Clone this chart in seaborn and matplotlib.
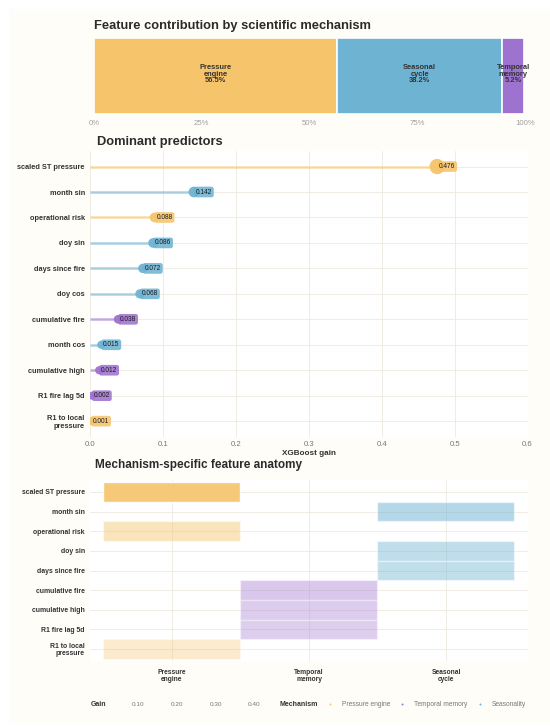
import numpy as np
import pandas as pd
import matplotlib
matplotlib.use("Agg")
import matplotlib.pyplot as plt
import matplotlib.transforms as mtrans
from matplotlib.patches import Rectangle
from matplotlib.lines import Line2D
import seaborn as sns

# ---------------- data ----------------
features = ["scaled ST pressure", "month sin", "operational risk", "doy sin",
            "days since fire", "doy cos", "cumulative fire", "month cos",
            "cumulative high", "R1 fire lag 5d", "R1 to local\npressure"]
gains = [0.476, 0.142, 0.088, 0.086, 0.072, 0.068, 0.038, 0.015, 0.012, 0.002, 0.001]
mechanisms = ["Pressure engine", "Seasonality", "Pressure engine", "Seasonality",
              "Seasonality", "Seasonality", "Temporal memory", "Seasonality",
              "Temporal memory", "Temporal memory", "Pressure engine"]

share_keys = ["Pressure engine", "Seasonality", "Temporal memory"]
share_labels = ["Pressure\nengine", "Seasonal\ncycle", "Temporal\nmemory"]
share_pct = [56.5, 38.2, 5.2]
share_ticks = [0, 25, 50, 75, 100]

anatomy_features = ["scaled ST pressure", "month sin", "operational risk", "doy sin",
                    "days since fire", "cumulative fire", "cumulative high",
                    "R1 fire lag 5d", "R1 to local\npressure"]
anatomy_columns = ["Pressure\nengine", "Temporal\nmemory", "Seasonal\ncycle"]
column_mech = ["Pressure engine", "Temporal memory", "Seasonality"]

gain_ticks = [0.1, 0.2, 0.3, 0.4]
gain_ticks_text = ["0.10", "0.20", "0.30", "0.40"]
legend_mechs = ["Pressure engine", "Temporal memory", "Seasonality"]
lollipop_ticks = [0.0, 0.1, 0.2, 0.3, 0.4, 0.5, 0.6]

palette = {"Pressure engine": "#F6C46B", "Seasonality": "#6FB3D2",
           "Temporal memory": "#9E72CF"}

# ---------------- style ----------------
sns.set_theme(style="whitegrid")
plt.rcParams["font.family"] = ["Liberation Sans", "DejaVu Sans"]
CREAM = "#FFFDF8"
GRID = "#EEE9E1"
DARK = "#2b2b2b"

W, H = 550, 726
fig = plt.figure(figsize=(W / 100, H / 100), dpi=100, facecolor="white")
fig.patches.append(Rectangle((8.8 / W, 3 / H), 1, (H - 8.8 - 3) / H,
                             transform=fig.transFigure, facecolor=CREAM,
                             edgecolor="none", zorder=-10))


def ax_px(left, top, right, bottom):
    return fig.add_axes([left / W, 1 - bottom / H, (right - left) / W, (bottom - top) / H])


def style_axes(ax):
    ax.set_facecolor("white")
    for s in ax.spines.values():
        s.set_visible(False)
    ax.tick_params(length=0)
    ax.grid(True, color=GRID, linewidth=0.6)
    ax.set_axisbelow(True)


# ---------------- panel 1: share bar ----------------
ax1 = ax_px(94, 37.5, 524.7, 114)
ax1.set_facecolor(CREAM)
for s in ax1.spines.values():
    s.set_visible(False)
left = 0.0
for key, lab, pct in zip(share_keys, share_labels, share_pct):
    ax1.barh(0, pct, left=left, height=1.0, color=palette[key],
             edgecolor="white", linewidth=1.2)
    ax1.text(left + pct / 2, 0.02, f"{lab}\n{pct:.1f}%", ha="center", va="center",
             fontsize=5.4, fontweight="bold", color="#333333", linespacing=0.92)
    left += pct
ax1.set_xlim(0, 100)
ax1.set_ylim(-0.5, 0.5)
ax1.set_yticks([])
ax1.set_xticks(share_ticks)
ax1.set_xticklabels([f"{t}%" for t in share_ticks])
ax1.tick_params(axis="x", length=0, labelsize=5.6, labelcolor="#a0a0a0", pad=4)
ax1.grid(False)
fig.text(94 / W, 1 - 25.6 / H, "Feature contribution by scientific mechanism",
         fontsize=9.3, fontweight="bold", color=DARK, va="center", ha="left")

# ---------------- panel 2: lollipop ----------------
ax2 = ax_px(90.4, 150.5, 527.5, 437.2)
style_axes(ax2)
df = pd.DataFrame({"feature": features, "gain": gains, "mechanism": mechanisms})
df["pos"] = np.arange(len(df))
ax2.hlines(df["pos"], 0, df["gain"], colors=[palette[m] for m in df["mechanism"]],
           alpha=0.55, linewidth=1.9, zorder=2)
sns.scatterplot(data=df, x="gain", y="pos", hue="mechanism", palette=palette,
                size="gain", sizes=(32, 122), legend=False, ax=ax2,
                linewidth=0, alpha=0.95, zorder=3)
offset = mtrans.ScaledTranslation(1.3 / 72, 0, fig.dpi_scale_trans)
for row in df.itertuples():
    ax2.text(row.gain, row.pos, f"{row.gain:.3f}", transform=ax2.transData + offset,
             ha="left", va="center", fontsize=4.7, color="#1a1a1a", zorder=4,
             bbox=dict(boxstyle="round,pad=0.28,rounding_size=0.35",
                       fc=palette[row.mechanism], ec="none", alpha=0.88))
ax2.set_xlim(0, 0.6)
ax2.set_ylim(len(df) - 1 + 0.63, -0.63)
ax2.set_yticks(df["pos"])
ax2.set_yticklabels(df["feature"])
ax2.set_xticks(lollipop_ticks)
ax2.set_xticklabels([f"{t:.1f}" for t in lollipop_ticks])
ax2.tick_params(axis="y", labelsize=5.35, labelcolor="#333333", pad=4)
ax2.tick_params(axis="x", labelsize=5.6, labelcolor="#777777", pad=3)
for t in ax2.get_yticklabels():
    t.set_fontweight("bold")
ax2.set_xlabel("XGBoost gain", fontsize=5.9, fontweight="bold", color="#333333", labelpad=1.5)
ax2.set_ylabel("")
fig.text(96.7 / W, 1 - 142 / H, "Dominant predictors",
         fontsize=9.3, fontweight="bold", color=DARK, va="center", ha="left")

# ---------------- panel 3: anatomy tiles ----------------
ax3 = ax_px(90.4, 480, 527.5, 661)
style_axes(ax3)
gain_of = dict(zip(features, gains))
mech_of = dict(zip(features, mechanisms))
for i, f in enumerate(anatomy_features):
    m = mech_of[f]
    j = column_mech.index(m)
    g = gain_of[f]
    ax3.barh(i, 1.0, left=j - 0.5, height=1.0, color=palette[m],
             alpha=0.34 + 1.2 * g, edgecolor="white", linewidth=1.0, zorder=2)
ax3.set_xlim(-0.595, len(anatomy_columns) - 1 + 0.595)
ax3.set_ylim(len(anatomy_features) - 1 + 0.61, -0.61)
ax3.set_yticks(range(len(anatomy_features)))
ax3.set_yticklabels(anatomy_features)
ax3.set_xticks(range(len(anatomy_columns)))
ax3.set_xticklabels(anatomy_columns)
ax3.tick_params(axis="y", labelsize=4.95, labelcolor="#333333", pad=4)
ax3.tick_params(axis="x", labelsize=4.8, labelcolor="#333333", pad=6)
for t in ax3.get_yticklabels() + ax3.get_xticklabels():
    t.set_fontweight("bold")
    t.set_linespacing(0.95)
fig.text(95.3 / W, 1 - 465 / H, "Mechanism-specific feature anatomy",
         fontsize=8.5, fontweight="bold", color=DARK, va="center", ha="left")

# ---------------- legends ----------------
ly = 1 - 704.6 / H
fig.text(91 / W, ly, "Gain", fontsize=5.0, fontweight="bold", color="#333333",
         va="center", ha="left")
gx0, gx1 = 138, 254.3
for t, txt in zip(gain_ticks, gain_ticks_text):
    xx = gx0 + (t - gain_ticks[0]) / (gain_ticks[-1] - gain_ticks[0]) * (gx1 - gx0)
    fig.text(xx / W, ly, txt, fontsize=4.6, color="#777777", va="center", ha="center")
fig.text(279.4 / W, ly, "Mechanism", fontsize=5.0, fontweight="bold", color="#333333",
         va="center", ha="left")
handles = [Line2D([], [], marker="o", linestyle="none", markersize=1.4,
                  markerfacecolor=palette[m], markeredgewidth=0) for m in legend_mechs]
fig.legend(handles, legend_mechs, loc="center left", bbox_to_anchor=(327.5 / W, ly),
           ncol=3, frameon=False, fontsize=4.8, handlelength=0.6, handletextpad=1.5,
           columnspacing=1.55, labelcolor="#777777", borderaxespad=0, borderpad=0)

fig.savefig("out.png", dpi=100, facecolor="white")
